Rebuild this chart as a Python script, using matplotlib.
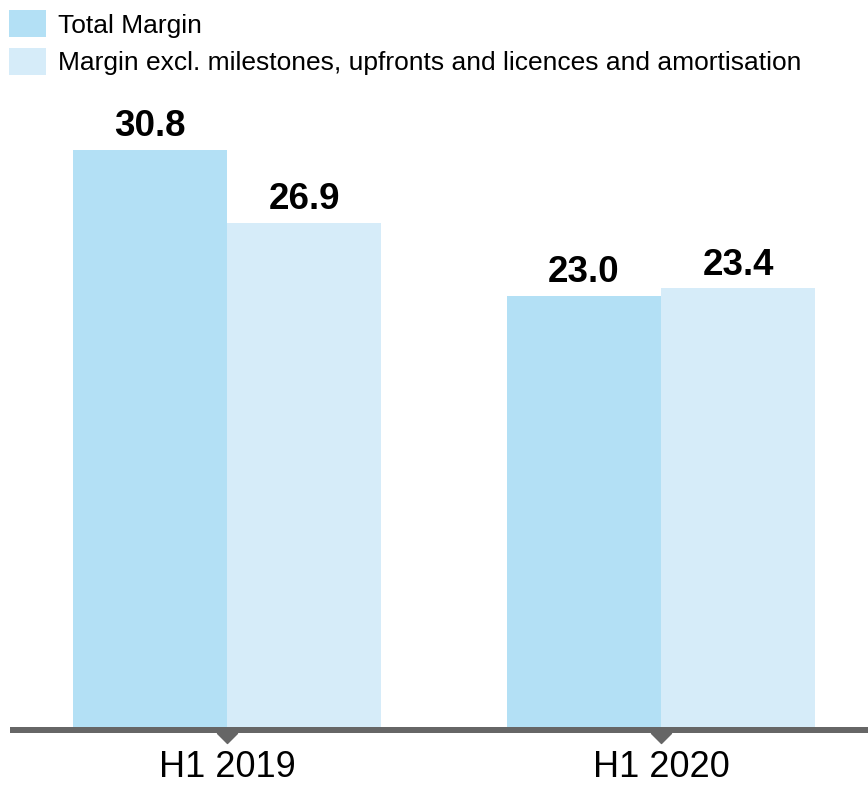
import matplotlib.pyplot as plt
from matplotlib.path import Path
import numpy as np

plt.rcParams["font.family"] = ["Liberation Sans", "DejaVu Sans"]

# data
periods = ["H1 2019", "H1 2020"]
total_margin = [30.8, 23.0]
margin_excl = [26.9, 23.4]
series_names = ["Total Margin",
                "Margin excl. milestones, upfronts and licences and amortisation"]

col_total = "#b3e0f5"
col_excl = "#d6ecf9"

W, H = 868, 785
fig = plt.figure(figsize=(W / 100, H / 100), dpi=100)

# axes: baseline at y=727 px, top at 100 px
px_per_unit = 18.74
ax_bottom, ax_top = 727, 100
ax = fig.add_axes([10 / W, (H - ax_bottom) / H, 858 / W, (ax_bottom - ax_top) / H])
ax.set_ylim(0, (ax_bottom - ax_top) / px_per_unit)
ax.set_xlim(-0.5, 1.477)

x = np.arange(len(periods))
bw = 0.355
b1 = ax.bar(x - bw / 2, total_margin, bw, color=col_total, label=series_names[0])
b2 = ax.bar(x + bw / 2, margin_excl, bw, color=col_excl, label=series_names[1])

for bars, vals in [(b1, total_margin), (b2, margin_excl)]:
    for rect, v in zip(bars, vals):
        ax.annotate(f"{v:.1f}", xy=(rect.get_x() + rect.get_width() / 2, rect.get_height()),
                    xytext=(0, 10), textcoords="offset points",
                    ha="center", va="baseline", fontsize=26.5, fontweight="bold")

# baseline bar + little down-pointing triangles
y_line = -3 / px_per_unit
ax.axhline(y_line, color="#666666", lw=6 * 0.72, clip_on=False, zorder=3,
           solid_capstyle="butt")
tri = Path([(-1, 0), (1, 0), (0, -1), (-1, 0)],
           [Path.MOVETO, Path.LINETO, Path.LINETO, Path.CLOSEPOLY])
ax.plot(x, [-5.5 / px_per_unit] * len(x), linestyle="none", marker=tri,
        markersize=14.4, color="#666666", clip_on=False, zorder=3)

# category labels, baseline at 777 px
for xi, lab in zip(x, periods):
    ax.text(xi, -(777 - ax_bottom) / px_per_unit, lab, ha="center", va="baseline",
            fontsize=26)
ax.set_xticks([])
ax.set_yticks([])
for s in ax.spines.values():
    s.set_visible(False)

fig.legend(handles=[b1, b2], loc="upper left", bbox_to_anchor=(9 / W, 1 - 10 / H),
           frameon=False, fontsize=19, handlelength=1.42, handleheight=1.22,
           handletextpad=0.42, labelspacing=0.38, borderpad=0, borderaxespad=0)

fig.savefig("out.png", dpi=100)
